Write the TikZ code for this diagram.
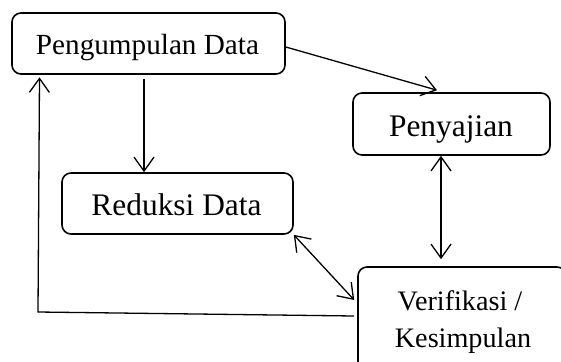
\documentclass[tikz,border=0pt]{standalone}
\usepackage{fontspec}
\setmainfont{Liberation Serif}
\usetikzlibrary{arrows.meta}
\begin{document}
\begin{tikzpicture}[x=1pt,y=-1pt,
  box/.style={draw,line width=1.6pt,rounded corners=9pt,inner sep=0pt},
  lbl/.style={inner sep=0pt,anchor=base},
  tip/.style={Straight Barb[length=14pt,width=20pt,line width=1.3pt]},
  arr/.style={line width=1.3pt,-{Straight Barb[length=14pt,width=20pt,line width=1.3pt]}},
  darr/.style={line width=1.3pt,{Straight Barb[length=14pt,width=20pt,line width=1.3pt]}-{Straight Barb[length=14pt,width=20pt,line width=1.3pt]}}]
\useasboundingbox (0,0) rectangle (561,361);
\clip (0,0) rectangle (561,361);
\node[box,minimum width=273pt,minimum height=61pt] (peng) at (148.5,43.5) {};
\node[lbl,font=\fontsize{29.2}{35}\selectfont] (pengt) at (147.5,54) {Pengumpulan Data};
\node[box,minimum width=197pt,minimum height=62pt] (pen) at (451.5,124) {};
\node[lbl,font=\fontsize{31.4}{37}\selectfont] (pent) at (451,136) {Penyajian};
\node[box,minimum width=231pt,minimum height=61pt] (red) at (177.5,203.5) {};
\node[lbl,font=\fontsize{31.4}{37}\selectfont] (redt) at (176.5,215) {Reduksi Data};
\node[box,minimum width=208pt,minimum height=133pt] (ver) at (462,333.5) {};
\node[lbl,font=\fontsize{28.2}{37}\selectfont] (vert1) at (460,310) {Verifikasi /};
\node[lbl,font=\fontsize{28.2}{37}\selectfont] (vert2) at (463,347) {Kesimpulan};
\coordinate (corner) at (38,312);
\draw[arr] ([xshift=-4.5pt,yshift=-4pt]peng.south) -- ([xshift=-33.5pt]red.north);
\draw[arr] ([yshift=-3.5pt]peng.east) -- ([xshift=-14.5pt,yshift=2pt]pen.north);
\draw[darr] ([xshift=-10.5pt]pen.south) -- ([xshift=-21pt,yshift=7pt]ver.north);
\draw[darr] (red.south east) -- ([xshift=-3pt,yshift=33.5pt]ver.west);
\draw[arr] ([xshift=-3pt,yshift=17.5pt]ver.west) -- (corner) -- ([xshift=-109pt,yshift=-2.5pt]peng.south);
\end{tikzpicture}
\end{document}
